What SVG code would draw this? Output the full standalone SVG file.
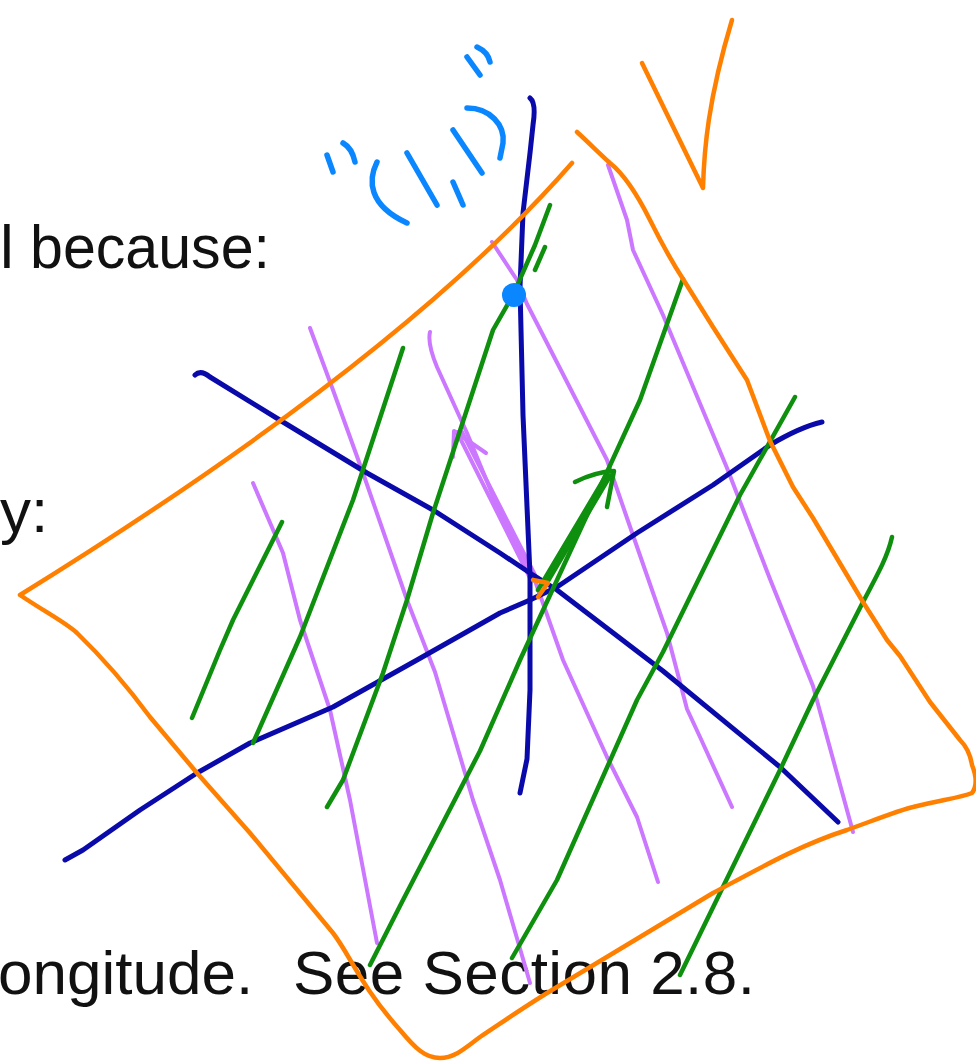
<svg xmlns="http://www.w3.org/2000/svg" width="976" height="1061" viewBox="0 0 976 1061">
<style>
.txt{font-family:"Liberation Sans",Arial,sans-serif;font-size:62px;fill:#111}
.o{fill:none;stroke:#FF8000;stroke-width:4.5;stroke-linecap:round;stroke-linejoin:round}
.b{fill:none;stroke:#0A0AAA;stroke-width:5;stroke-linecap:round;stroke-linejoin:round}
.g{fill:none;stroke:#0E900E;stroke-width:4.5;stroke-linecap:round;stroke-linejoin:round}
.p{fill:none;stroke:#CC77FF;stroke-width:4;stroke-linecap:round;stroke-linejoin:round}
.lb{fill:none;stroke:#0A86FF;stroke-width:5.5;stroke-linecap:round;stroke-linejoin:round}
</style>
<rect width="976" height="1061" fill="#fff"/>
<g id="text">
<text class="txt" x="0" y="268">l</text>
<text class="txt" x="30" y="268" textLength="240" lengthAdjust="spacingAndGlyphs">because:</text>
<text class="txt" x="0" y="532">y:</text>
<text class="txt" x="-2" y="994">ongitude.<tspan x="293" textLength="462" lengthAdjust="spacing">See Section 2.8.</tspan></text>
</g>
<g id="purple-lines">
<path class="p" d="M253,483 L283,553 L300,620 L330,710 L350,800 L377,943"/>
<path class="p" d="M310,328 L333,390 L363,473 L407,600 L435,672 L473,800 L500,880 L530,983"/>
<path class="p" d="M430,332 C428,340 430,350 437,367 L467,433 L500,513 L533,575 L563,660 L607,757 L637,817 L658,882"/>
<path class="p" d="M492,242 L517,280 L527,304 L607,460 L627,518 L667,633 L687,709 L700,737 L732,807"/>
<path class="p" d="M608,165 L627,220 L633,250 L663,315 L727,468 L770,579 L813,686 L853,832"/>
<g id="purple-arrow">
<path class="p" d="M530,578 L457,432"/>
<path class="p" d="M535,575 L462,432"/>
<path class="p" d="M453,457 L454,431 L486,453"/>
</g>
</g>
<g id="axes">
<path class="b" d="M530,98 C535,102 535,112 533,125 L530,153 L523,213 L520,287 L523,415 L530,575 L530,690 L527,759 L520,793"/>
<path class="b" d="M195,375 C199,371 204,372 210,377 L283,422 L367,473 L433,510 L500,553 L530,573 L557,590 L663,671 L780,767 L838,822"/>
<path class="b" d="M65,860 L83,850 L140,810 L197,773 L250,743 L333,707 L417,660 L500,613 L530,600 L557,587 L637,533 L713,485 L770,445 C790,433 805,426 822,422"/>
</g>
<g id="green-lines">
<path class="g" d="M192,718 L220,650 L233,620 L282,522"/>
<path class="g" d="M253,743 L300,637 L353,500 L403,348"/>
<path class="g" d="M327,807 L343,780 L383,673 L407,600 L433,513 L493,330 L513,295 L535,245 L550,205"/>
<path class="g" d="M545,247 L535,270"/>
<path class="g" d="M370,965 L403,900 L480,751 L520,660 L607,472 L640,400 L683,279"/>
<path class="g" d="M512,958 L557,880 L637,700 L663,652 L740,495 L795,397"/>
<path class="g" d="M680,975 L720,893 L780,770 L813,700 L863,602 C880,570 888,555 892,537"/>
<g id="green-arrow">
<path class="g" d="M538,590 L607,474"/>
<path class="g" d="M545,586 L610,476"/>
<path class="g" d="M575,482 Q595,472 614,471 L607,507"/>
</g>
</g>
<g id="orange-outline">
<path class="o" d="M572,163 Q400,360 20,595 C45,612 65,622 77,633 C105,660 130,690 150,717 L197,773 L250,833 L333,933 C350,955 360,985 400,1030 C415,1048 425,1058 440,1058 C455,1058 465,1048 480,1037 C510,1017 530,1003 557,987 L713,893 C760,868 800,845 847,830 C880,818 900,810 913,807 C940,800 960,798 972,793 C978,785 976,775 972,765 C970,752 965,745 960,740 L930,702 L900,656 L887,640 L863,602 L813,518 L793,487 L770,441 L747,380 L713,327 L683,279 C672,262 660,240 650,220 C640,200 625,175 610,163 C598,152 588,142 577,132"/>
<path class="o" d="M642,63 L703,188 C704,150 708,100 732,20"/>
<path class="o" stroke-width="5" d="M533,580 L548,583 L538,597"/>
</g>
<g id="label-1-1">
<path class="lb" d="M327,155 L333,172"/>
<path class="lb" d="M343,143 Q352,148 355,162"/>
<path class="lb" d="M377,162 C368,180 368,205 407,223"/>
<path class="lb" d="M407,153 L437,205"/>
<path class="lb" d="M453,182 L463,205"/>
<path class="lb" d="M453,130 L482,173"/>
<path class="lb" d="M467,108 C490,108 505,125 503,143 L500,158"/>
<path class="lb" d="M467,57 L480,75"/>
<path class="lb" d="M477,47 Q488,52 490,62"/>
<circle id="point-1-1" cx="514" cy="295" r="12" fill="#0A86FF"/>
</g>
</svg>
